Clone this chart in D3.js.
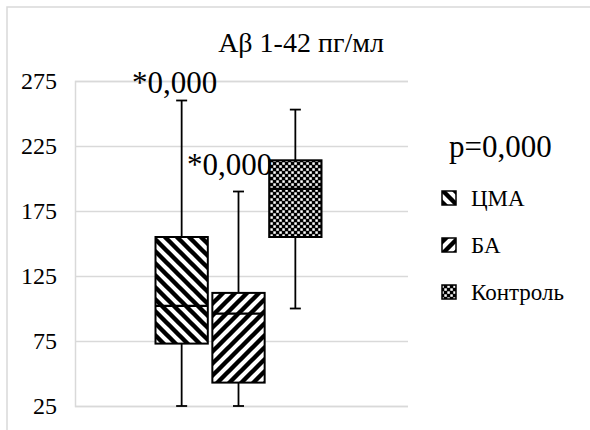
<!DOCTYPE html>
<html><head><meta charset="utf-8"><script src="https://cdn.jsdelivr.net/npm/d3@7"></script></head>
<body style="margin:0">
<div id="wrap" style="position:relative;width:590px;height:430px;overflow:hidden;background:#fff">
<svg id="chart" width="590" height="430" style="position:absolute;left:0;top:0"></svg>
</div>
<script>
// Box-plot summary of Aβ 1-42 (пг/мл) per group
const series  = ["ЦМА", "БА", "Контроль"];
const mins    = [25, 25, 100];
const q1s     = [73, 43, 155];
const medians = [102, 96, 192];
const q3s     = [155, 112, 214];
const maxs    = [260, 190, 253];
const pLabels = ["*0,000", "*0,000", ""];
const yTicks  = [25, 75, 125, 175, 225, 275];
const title   = "Aβ 1-42 пг/мл";
const pTotal  = "p=0,000";

const svg = d3.select("#chart");
const wrap = d3.select("#wrap");
const grid = "#d9d9d9";

// labels are HTML spans laid over the svg; (x, baseline) with an anchor
function label(txt, xPos, baseline, size, anchor) {
  const shift = anchor === "middle" ? "-50%" : anchor === "end" ? "-100%" : "0";
  wrap.append("span").text(txt)
    .style("position", "absolute")
    .style("left", xPos + "px")
    .style("top", (baseline - 0.8375 * size) + "px")
    .style("font-family", "'Liberation Serif'")
    .style("font-size", size + "px")
    .style("line-height", "1")
    .style("white-space", "nowrap")
    .style("color", "#000")
    .style("transform", `translateX(${shift})`);
}

// pattern fills
const defs = svg.append("defs");
function stripes(id, d) {
  const p = defs.append("pattern").attr("id", id)
    .attr("patternUnits", "userSpaceOnUse").attr("width", 12).attr("height", 12);
  p.append("rect").attr("width", 12).attr("height", 12).attr("fill", "#fff");
  p.append("path").attr("d", d).attr("stroke", "#000").attr("stroke-width", 4.4)
    .attr("fill", "none").attr("stroke-linecap", "square");
}
stripes("pat0", "M-3,-3L15,15M-3,9L3,15M9,-3L15,3");
stripes("pat1", "M-3,15L15,-3M-3,3L3,-3M9,15L15,9");
const chk = defs.append("pattern").attr("id", "pat2")
  .attr("patternUnits", "userSpaceOnUse").attr("width", 6).attr("height", 6);
chk.append("rect").attr("width", 6).attr("height", 6).attr("fill", "#000");
chk.append("rect").attr("x", 0.3).attr("y", 0.3).attr("width", 2.5).attr("height", 2.5).attr("fill", "#fff");
chk.append("rect").attr("x", 3.3).attr("y", 3.3).attr("width", 2.5).attr("height", 2.5).attr("fill", "#fff");
const fillOf = i => `url(#pat${i})`;

// chart frame
svg.append("rect").attr("x", 7).attr("y", 7).attr("width", 620).attr("height", 460)
  .attr("fill", "none").attr("stroke", grid).attr("stroke-width", 1.5);

const plotL = 75, plotR = 408;
const y = d3.scaleLinear().domain([25, 275]).range([406, 81]);
const x = d3.scaleBand().domain(series).range([155.5, 321.5]).paddingInner(0.08);

// gridlines
const yAxis = d3.axisLeft(y).tickValues(yTicks).tickSize(-(plotR - plotL)).tickFormat("");
const ga = svg.append("g").attr("transform", `translate(${plotL},0)`).call(yAxis);
ga.select(".domain").attr("stroke", grid).attr("stroke-width", 1.5);
ga.selectAll(".tick line").attr("stroke", grid).attr("stroke-width", 1.5);
ga.selectAll(".tick text").remove();

// axis labels
yTicks.forEach(t => label(String(t), plotL - 18, y(t) + 8, 24, "end"));

// title
label(title, 301, 52, 28, "middle");

// boxes
const g = svg.append("g");
series.forEach((s, i) => {
  const x0 = x(s), bw = x.bandwidth(), cx = x0 + bw / 2;
  const line = (x1, y1, x2, y2) => g.append("line")
    .attr("x1", x1).attr("y1", y1).attr("x2", x2).attr("y2", y2)
    .attr("stroke", "#000").attr("stroke-width", 1.8);
  // whiskers
  line(cx, y(maxs[i]), cx, y(q3s[i]));
  line(cx, y(q1s[i]), cx, y(mins[i]));
  line(cx - 5.5, y(maxs[i]), cx + 5.5, y(maxs[i]));
  line(cx - 5.5, y(mins[i]), cx + 5.5, y(mins[i]));
  // box
  g.append("rect").attr("x", x0).attr("y", y(q3s[i]))
    .attr("width", bw).attr("height", y(q1s[i]) - y(q3s[i]))
    .attr("fill", fillOf(i)).attr("stroke", "#000").attr("stroke-width", 2);
  line(x0, y(medians[i]), x0 + bw, y(medians[i])).attr("stroke-width", 2.2);
});

// significance labels over whiskers
const labelDx = [-7, -9, 0], labelDy = [-8, -17, 0];
series.forEach((s, i) => {
  if (!pLabels[i]) return;
  label(pLabels[i], x(s) + x.bandwidth() / 2 + labelDx[i], y(maxs[i]) + labelDy[i], 31, "middle");
});

// overall p and legend
label(pTotal, 449, 157, 31, "start");
const legY = d3.scalePoint().domain(series).range([198, 292]);
series.forEach((s, i) => {
  svg.append("rect").attr("x", 442).attr("y", legY(s) - 7)
    .attr("width", 14).attr("height", 14)
    .attr("fill", fillOf(i)).attr("stroke", "#000").attr("stroke-width", 1.5);
  label(s, 471, legY(s) + 8, 23, "start");
});
</script>
</body>
</html>
